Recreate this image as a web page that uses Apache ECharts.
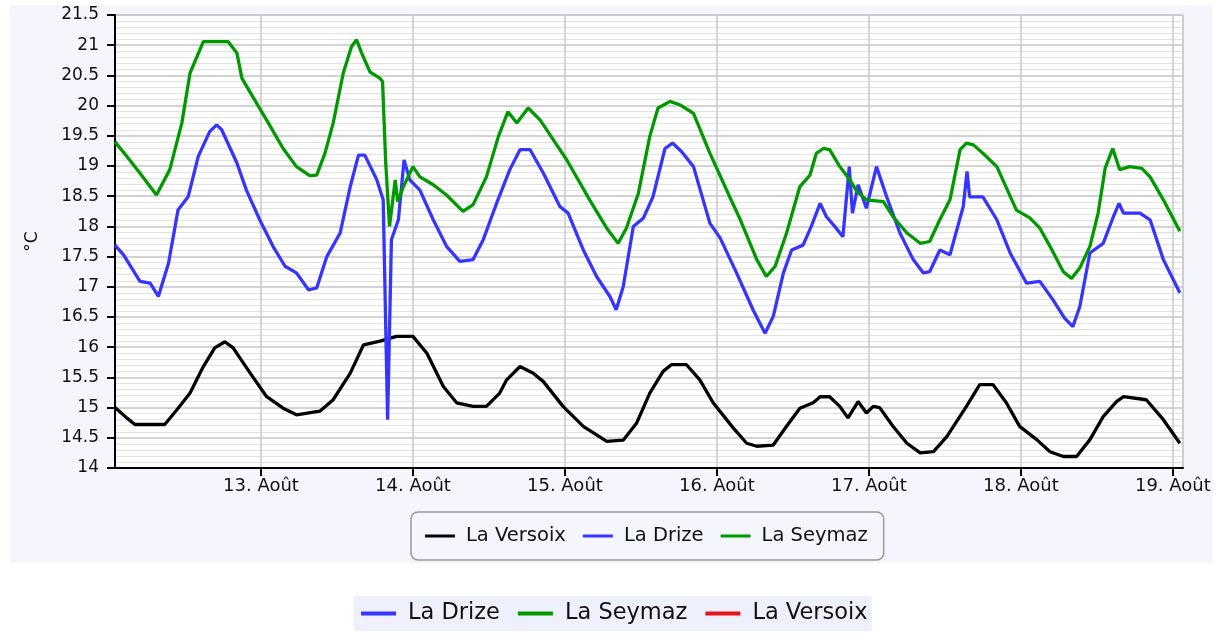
<!DOCTYPE html>
<html>
<head>
<meta charset="utf-8">
<script src="https://cdn.jsdelivr.net/npm/echarts@6/dist/echarts.min.js"></script>
<style>
html,body{margin:0;padding:0;background:#ffffff;}
#bg{position:absolute;left:10px;top:5px;width:1203px;height:558px;background:#f4f5fd;}
#chart{position:absolute;left:0;top:0;width:1223px;height:633px;}
</style>
</head>
<body>
<div id="bg"></div>
<div id="chart"></div>
<script>
// hours since 12 Aug 00:00, values in °C
const versoixHours = [0.95,2.8,4.1,8.8,10.7,12.8,14.9,16.7,18.3,19.6,22.3,24.9,27.5,29.6,33.3,35.4,38.1,40.2,42.8,45.4,48.0,50.2,52.8,54.9,57.5,59.6,61.7,62.8,64.9,67.0,68.6,71.7,74.9,77.0,78.6,81.2,83.3,85.4,87.5,88.8,91.2,93.3,95.4,98.6,100.7,102.3,104.9,107.0,109.1,111.2,112.3,113.8,115.4,116.7,118.3,119.6,120.7,121.7,123.8,126.0,128.1,130.2,132.3,135.4,137.5,139.6,141.7,143.8,146.5,148.6,150.7,152.8,154.9,157.0,159.1,160.2,163.8,166.5,169.1];
const versoixTemp = [15.0,14.83,14.72,14.72,14.96,15.24,15.68,15.99,16.09,15.99,15.57,15.18,14.99,14.88,14.94,15.13,15.57,16.04,16.1,16.18,16.18,15.9,15.35,15.08,15.02,15.02,15.24,15.46,15.68,15.57,15.43,15.02,14.69,14.55,14.44,14.46,14.74,15.24,15.6,15.71,15.71,15.46,15.08,14.66,14.41,14.36,14.38,14.69,14.99,15.08,15.18,15.18,15.02,14.83,15.1,14.91,15.02,15.0,14.69,14.41,14.25,14.27,14.52,15.02,15.38,15.38,15.08,14.69,14.47,14.27,14.19,14.19,14.47,14.85,15.1,15.18,15.13,14.8,14.41];

const drizeHours = [0.95,2.3,4.9,6.5,7.8,9.4,10.9,12.5,14.1,15.9,17.0,17.8,20.2,21.7,23.8,25.9,27.8,29.6,31.5,32.8,34.4,36.5,38.1,39.4,40.4,42.3,43.3,44.0,44.6,45.7,46.6,47.5,49.1,51.2,53.3,55.4,57.5,59.1,61.2,63.3,64.9,66.5,68.6,71.2,72.5,74.9,77.0,79.1,80.1,81.2,82.8,84.4,85.9,87.8,89.0,90.4,92.3,94.9,96.5,99.1,101.7,103.6,104.9,106.5,107.8,109.6,110.9,112.3,113.3,114.6,115.9,116.9,117.4,118.3,119.6,121.2,122.8,124.9,127.0,128.6,129.6,131.2,132.8,134.9,135.5,135.9,138.0,140.2,142.3,144.9,147.0,149.1,150.9,152.2,153.3,154.9,157.0,158.6,159.5,160.2,162.8,164.4,166.5,169.1];
const drizeTemp = [17.69,17.53,17.09,17.06,16.84,17.39,18.27,18.49,19.16,19.57,19.68,19.6,19.05,18.6,18.11,17.67,17.34,17.23,16.95,16.98,17.5,17.89,18.66,19.18,19.18,18.77,18.44,14.8,17.78,18.11,19.1,18.77,18.6,18.11,17.67,17.42,17.45,17.78,18.38,18.94,19.27,19.27,18.88,18.33,18.22,17.61,17.17,16.84,16.62,17.0,18.0,18.14,18.49,19.29,19.38,19.24,18.99,18.05,17.81,17.23,16.62,16.23,16.51,17.23,17.61,17.69,18.0,18.38,18.16,18.0,17.83,18.99,18.22,18.69,18.3,18.99,18.49,17.89,17.45,17.23,17.25,17.61,17.53,18.33,18.91,18.49,18.49,18.11,17.56,17.06,17.09,16.78,16.48,16.34,16.67,17.56,17.72,18.16,18.38,18.22,18.22,18.11,17.45,16.9];

const seymazHours = [0.95,2.8,4.9,7.5,9.6,11.5,12.8,14.9,18.8,20.2,21.0,23.3,24.9,27.5,29.6,31.7,32.8,34.1,35.4,37.0,38.3,39.1,39.9,41.2,42.8,43.2,43.7,44.3,45.2,45.6,46.5,48.0,49.1,51.2,53.3,55.9,57.5,59.6,61.5,63.0,64.4,66.2,68.1,70.7,72.3,75.9,78.6,80.4,81.7,83.6,85.4,86.7,88.6,90.2,92.3,94.9,98.1,99.7,102.3,103.8,105.2,107.0,109.1,110.7,111.7,112.8,113.8,115.4,117.0,118.1,119.6,122.3,123.8,126.0,128.1,129.6,131.2,132.8,134.4,135.4,136.5,138.0,140.2,143.3,145.4,147.0,148.6,150.7,152.0,153.3,154.9,156.2,157.3,158.5,159.6,161.2,163.1,164.4,166.5,169.1];
const seymazTemp = [19.4,19.16,18.88,18.52,18.94,19.71,20.54,21.06,21.06,20.87,20.45,20.04,19.76,19.29,18.99,18.84,18.85,19.21,19.71,20.54,20.98,21.09,20.87,20.56,20.45,20.4,19.05,18.0,18.77,18.41,18.66,18.99,18.82,18.69,18.52,18.25,18.36,18.82,19.49,19.9,19.71,19.96,19.76,19.35,19.1,18.44,17.97,17.72,17.97,18.55,19.49,19.96,20.07,20.01,19.87,19.21,18.47,18.11,17.45,17.17,17.34,17.89,18.66,18.85,19.21,19.29,19.27,18.99,18.77,18.58,18.44,18.41,18.16,17.89,17.72,17.75,18.11,18.44,19.27,19.38,19.35,19.21,18.99,18.27,18.14,17.97,17.67,17.25,17.14,17.31,17.67,18.22,18.96,19.29,18.94,18.99,18.96,18.82,18.44,17.92];

const seriesNames = ['La Versoix','La Drize','La Seymaz'];
const seriesColors = ['#000000','#3535ff','#009a00'];
const legend2Names = ['La Drize','La Seymaz','La Versoix'];
const legend2Colors = ['#3535ff','#009a00','#e8141c'];

const xStartHour = 0.95, xEndHour = 169.6;
const yTicksMin = 14, yTicksMax = 21.5, yTickStep = 0.5;

const base = new Date(2024, 7, 12, 0, 0, 0).getTime();
const H = 3600000;
function pairs(hs, vs){ return hs.map((h,i)=>[base + h*H, vs[i]]); }
const dataSets = [pairs(versoixHours, versoixTemp), pairs(drizeHours, drizeTemp), pairs(seymazHours, seymazTemp)];

const font = 'DejaVu Sans';
const chart = echarts.init(document.getElementById('chart'), null, {renderer:'canvas'});
chart.setOption({
  backgroundColor: 'transparent',
  animation: false,
  grid: {left:115, right:40, top:15, bottom:165, show:true, backgroundColor:'#ffffff', borderColor:'#c4c4c4', borderWidth:1},
  xAxis: {
    type:'time', min: base + xStartHour*H, max: base + xEndHour*H,
    minInterval: 24*H, maxInterval: 24*H,
    axisLine:{show:true, lineStyle:{color:'#000', width:2}},
    axisTick:{show:true, length:8, lineStyle:{color:'#000', width:2}},
    splitLine:{show:true, lineStyle:{color:'#c8c8c8', width:1.5}},
    axisLabel:{fontFamily:font, fontSize:18, color:'#111', margin:9,
      formatter: function(v){ const d = new Date(v); return d.getDate() + '. Août'; }}
  },
  yAxis: {
    type:'value', min:yTicksMin, max:yTicksMax, interval:yTickStep,
    name:'°C', nameLocation:'middle', nameGap:74,
    nameTextStyle:{fontFamily:font, fontSize:17, color:'#111'},
    axisLine:{show:true, lineStyle:{color:'#000', width:2}},
    axisTick:{show:true, length:8, lineStyle:{color:'#000', width:2}},
    axisLabel:{fontFamily:font, fontSize:17, color:'#111', margin:16},
    splitLine:{show:true, lineStyle:{color:'#c4c4c4', width:1.5}},
    minorTick:{show:false, splitNumber:5},
    minorSplitLine:{show:true, lineStyle:{color:'#e2e2e2', width:1}}
  },
  legend: [
    {
      left:411, top:512, orient:'horizontal', icon:'rect',
      padding:[14,16,14,14], itemGap:17, itemWidth:30, itemHeight:3,
      borderColor:'#9a9a9a', borderWidth:1.5, borderRadius:7,
      textStyle:{fontFamily:font, fontSize:19.5, color:'#111', padding:[0,0,0,6]},
      data: seriesNames
    },
    {
      left:354, top:596, orient:'horizontal', icon:'rect',
      padding:[6,4,6,7], itemGap:18, itemWidth:35, itemHeight:4,
      backgroundColor:'#eef0fb',
      textStyle:{fontFamily:font, fontSize:22.5, color:'#111', padding:[0,0,0,7]},
      data: legend2Names.map((n,i)=>({name:n, itemStyle:{color:legend2Colors[i]}}))
    }
  ],
  series: seriesNames.map((n,i)=>({
    name:n, type:'line', data:dataSets[i], showSymbol:false, symbol:'none',
    lineStyle:{color:seriesColors[i], width:3.3}, itemStyle:{color:seriesColors[i]}
  }))
});
</script>
</body>
</html>
